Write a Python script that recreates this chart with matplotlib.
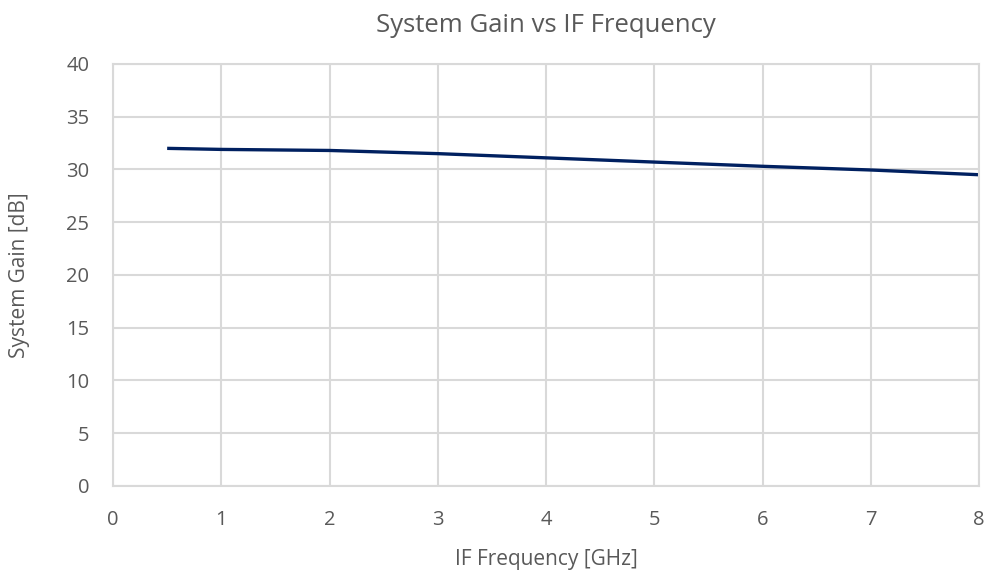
import matplotlib.pyplot as plt

plt.rcParams['font.family'] = ['Open Sans', 'DejaVu Sans']

# IF周波数とシステム利得
freq = [0.5, 1, 2, 3, 4, 5, 6, 7, 8]
gain = [32.0, 31.9, 31.8, 31.5, 31.1, 30.7, 30.3, 29.95, 29.5]

fig = plt.figure(figsize=(9.88, 5.71), dpi=100)
ax = fig.add_axes([0.1144, 0.1489, 0.8766, 0.7391])

ax.plot(freq, gain, color='#002060', linewidth=2.4, solid_capstyle='butt')

ax.set_xlim(0, 8)
ax.set_ylim(0, 40)
ax.set_xticks(range(0, 9))
ax.set_yticks(range(0, 41, 5))
ax.grid(True, color='#d9d9d9', linewidth=1.5)
ax.set_axisbelow(True)
for s in ax.spines.values():
    s.set_color('#d9d9d9')
    s.set_linewidth(1.5)
ax.tick_params(axis='y', length=0, labelsize=14.5, colors='#595959', pad=17)
ax.tick_params(axis='x', length=0, labelsize=14.5, colors='#595959', pad=17)

ax.set_title("System Gain vs IF Frequency", fontsize=18.5, color='#595959', pad=23)
ax.set_xlabel("IF Frequency [GHz]", fontsize=15, color='#595959', labelpad=14)
ax.set_ylabel("System Gain [dB]", fontsize=15, color='#595959', va='center')
ax.yaxis.set_label_coords(-0.108, 0.5)

plt.savefig('out.png')
